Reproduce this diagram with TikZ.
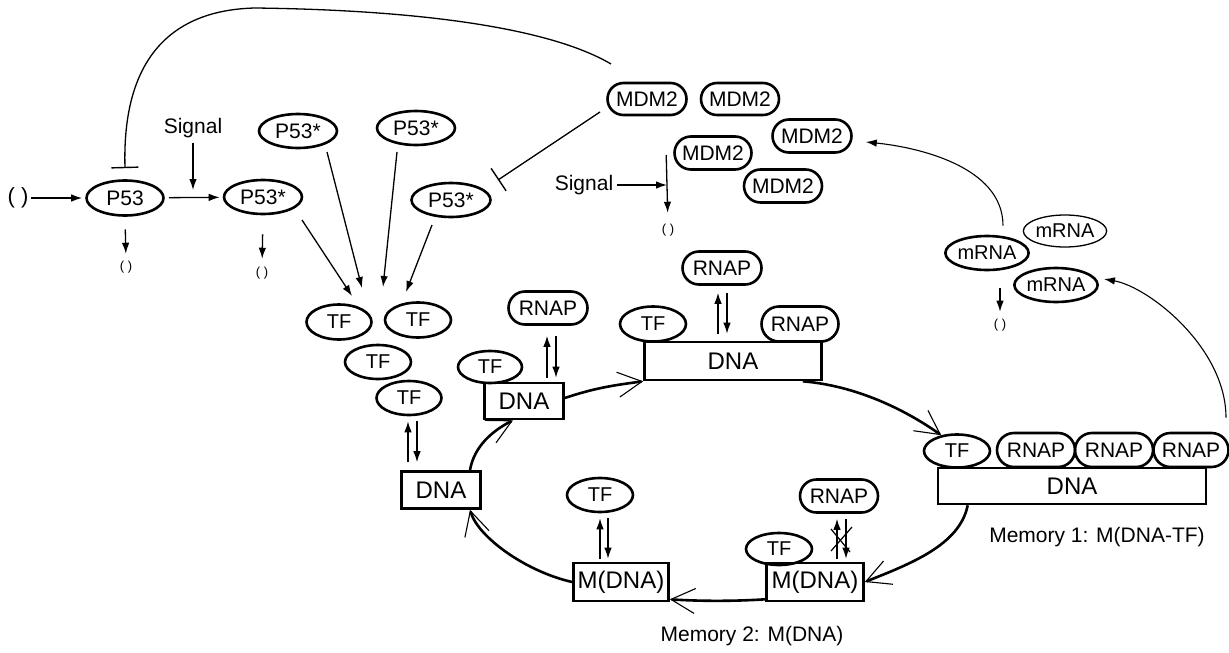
\documentclass[tikz,border=0pt]{standalone}
\usepackage{fontspec}
\setmainfont{Liberation Sans}
\usetikzlibrary{arrows.meta,shapes.geometric,shapes.misc,calc}
\begin{document}
\begin{tikzpicture}[x=1pt,y=-1pt,
  every node/.style={inner sep=0pt},
  lbl/.style={font=\fontsize{21}{25}\selectfont},
  ell/.style={ellipse,draw,line width=2.6pt,minimum width=78pt,minimum height=34pt,font=\fontsize{21}{25}\selectfont},
  tfe/.style={ellipse,draw,line width=2.6pt,minimum width=66pt,minimum height=34pt,font=\fontsize{20}{24}\selectfont},
  pill/.style={rounded rectangle,draw,line width=2.6pt,minimum width=78pt,minimum height=33pt,font=\fontsize{21}{25}\selectfont},
  dbox/.style={rectangle,draw,line width=2.6pt,minimum height=37pt,font=\fontsize{24}{28}\selectfont},
  small/.style={font=\fontsize{13}{15}\selectfont},
  arr/.style={line width=1.3pt,-{Latex[length=11pt,width=7.5pt]}},
  inh/.style={line width=1.3pt,-{Bar[width=27pt,line width'=1.4pt]}},
  cyc/.style={line width=2.6pt,-{Straight Barb[length=24pt,width=25pt,line width'=1.1pt]}},
]
\useasboundingbox (0,0) rectangle (1229,653);

% ---- P53 row
\node[font=\fontsize{22}{26}\selectfont] (lp) at (18,198) {( )};
\node[ell,minimum width=77pt,minimum height=35pt] (p53) at (125,198) {P53};
\node[ell] (p53s) at (263,197) {P53*};
\node[lbl] (sig1) at (193,128) {Signal};
\node[small] (deg1) at (126,267) {( )};
\node[small] (deg2) at (262,273) {( )};
\coordinate (j1) at (193,190);

\draw[arr,shorten >=3pt,shorten <=2pt] (lp) -- (p53);
\draw[arr,shorten >=3pt,shorten <=4pt] (p53) -- (p53s);
\draw[arr,shorten <=5pt] (sig1.south) -- (j1);
\draw[arr,shorten <=12.5pt,shorten >=7pt] (p53.south) -- (deg1.north);
\draw[arr,shorten <=19pt,shorten >=8pt] (p53s.south) -- (deg2.north);

% ---- other P53*
\node[ell] (p53a) at (298,131) {P53*};
\node[ell] (p53b) at (416,128) {P53*};
\node[ell,minimum width=79pt] (p53c) at (451,200) {P53*};

% ---- TF pool
\node[tfe,minimum width=65pt,minimum height=35pt] (tf1) at (339,322) {TF};
\node[tfe,minimum height=35pt] (tf2) at (418,320) {TF};
\node[tfe] (tf3) at (378,362) {TF};
\node[tfe,minimum width=65pt] (tf4) at (409,398) {TF};

\coordinate (t1) at (352,296);
\coordinate (t2) at (362,288);
\coordinate (t3) at (383,287);
\coordinate (t4) at (406,292);
\draw[arr] ($(p53s)+(39,23)$) -- (t1);
\draw[arr] ($(p53a)+(29,21)$) -- (t2);
\draw[arr] ($(p53b)+(-19,24)$) -- (t3);
\draw[arr] ($(p53c)+(-19,25)$) -- (t4);

% ---- MDM2
\node[pill,minimum width=79pt,minimum height=32pt] (mdm1) at (647,99) {MDM2};
\node[pill,minimum height=32pt] (mdm2) at (740,99) {MDM2};
\node[pill,minimum width=79pt] (mdm3) at (812,136) {MDM2};
\node[pill,minimum width=77pt] (mdm4) at (713,153) {MDM2};
\node[pill] (mdm5) at (783,186) {MDM2};
\node[lbl] (sig2) at (584,185) {Signal};
\node[small] (deg3) at (668,230) {( )};
\coordinate (j2) at (667,185);

\draw[arr,shorten >=11pt] ($(mdm4.west)+(-7,2)$) -- (deg3.north);
\draw[arr,shorten <=4pt] (sig2.east) -- (j2);

% inhibitions
\draw[inh] ($(mdm1)+(-47,13)$) -- ($(p53c)+(47,-20)$);
\draw[inh] ($(mdm1)+(-36,-35)$) .. controls (550,28) and (420,10) .. (255,8)
  .. controls (170,10) and (122,60) .. ([yshift=11pt]p53.north);

% ---- mRNA
\node[ell] (mrna1) at (987,253) {\fontsize{20}{24}\selectfont mRNA};
\node[ell,line width=1.3pt,minimum width=76pt,minimum height=32pt] (mrna2) at (1065,231) {\fontsize{20}{24}\selectfont mRNA};
\node[ell] (mrna3) at (1056,285) {\fontsize{20}{24}\selectfont mRNA};
\node[small] (deg4) at (1000,325) {( )};
\draw[arr,shorten <=17pt,shorten >=7pt] (deg4.north |- mrna1.south) -- (deg4.north);

% ---- cycle: DNA states
\node[dbox,minimum width=79pt] (dnaL) at (441,490) {DNA};
\node[dbox,minimum width=79pt,minimum height=36pt] (dnaS) at (524,401) {DNA};
\node[tfe,minimum width=64pt,minimum height=32pt] (tfS) at (490,367) {TF};
\node[pill,minimum width=79pt] (rnapS) at (548,308) {RNAP};

\node[dbox,minimum width=177pt,minimum height=38pt] (dnaB) at (733,361) {DNA};
\node[tfe,minimum height=35pt] (tfB) at (653,324) {TF};
\node[pill,minimum width=77pt,minimum height=35pt] (rnapB) at (800,324) {RNAP};
\node[pill,minimum width=79pt] (rnapT) at (722,268) {RNAP};

\node[dbox,minimum width=268pt,minimum height=36pt] (dnaA) at (1072,486) {DNA};
\node[tfe,minimum height=33pt] (tfA) at (957,451) {TF};
\node[pill,minimum height=34pt] (r1) at (1036,450) {RNAP};
\node[pill,minimum height=34pt] (r2) at (1114,450) {RNAP};
\node[pill,minimum width=75pt,minimum height=34pt] (r3) at (1191,450) {RNAP};
\node[lbl] (mem1) at (1097,537) {Memory 1: M(DNA-TF)};

\node[dbox,minimum width=95pt,minimum height=38pt] (mdnaL) at (621,582) {M(DNA)};
\node[tfe] (tfM) at (600,495) {TF};
\node[dbox,minimum width=97pt,minimum height=38pt] (mdnaR) at (815,582) {M(DNA)};
\node[tfe,minimum height=32pt] (tfR) at (779,549) {TF};
\node[pill] (rnapR) at (839,496) {RNAP};
\node[lbl] (mem2) at (752,636) {Memory 2: M(DNA)};

% binding/unbinding double arrows
\draw[arr,shorten <=8pt,shorten >=5pt] (408,0 |- dnaL.north) -- (408,0 |- tf4.south);
\draw[arr,shorten <=5pt,shorten >=8pt] (417,0 |- tf4.south) -- (417,0 |- dnaL.north);
\draw[arr,shorten <=4pt,shorten >=10pt] (547,0 |- dnaS.north) -- (547,0 |- rnapS.south);
\draw[arr,shorten <=10pt,shorten >=4pt] (556,0 |- rnapS.south) -- (556,0 |- dnaS.north);
\draw[arr,shorten <=7pt,shorten >=7pt] (718,0 |- dnaB.north) -- (718,0 |- rnapT.south);
\draw[arr,shorten <=7pt,shorten >=7pt] (727,0 |- rnapT.south) -- (727,0 |- dnaB.north);
\draw[arr,shorten <=3pt,shorten >=5pt] (600,0 |- mdnaL.north) -- (600,0 |- tfM.south);
\draw[arr,shorten <=5pt,shorten >=3pt] (608,0 |- tfM.south) -- (608,0 |- mdnaL.north);
\draw[arr,shorten <=3pt,shorten >=5pt] (837,0 |- mdnaR.north) -- (837,0 |- rnapR.south);
\draw[arr,shorten <=5pt,shorten >=3pt] (846,0 |- rnapR.south) -- (846,0 |- mdnaR.north);
\draw[line width=1.2pt] (831,551) -- (852,527);
\draw[line width=1.2pt] (831,529) -- (850,552);

% cycle transitions
\draw[cyc] ([xshift=29pt]dnaL.north) .. controls +(4,-24) and +(-20,10) .. ([xshift=-11pt]dnaS.south);
\draw[cyc] ([yshift=3pt]dnaS.east) .. controls +(30,-10) and +(-30,4) .. (dnaB.south west);
\draw[cyc] ([xshift=-20pt]dnaB.south east) .. controls +(60,5) and +(-28,-20) .. (tfA.135);
\draw[cyc] ([xshift=31pt]dnaA.south west) .. controls +(-8,40) and +(45,-18) .. (mdnaR.east);
\draw[cyc] ([yshift=3pt]mdnaR.south west) .. controls +(-30,2) and +(30,2) .. ([yshift=3pt]mdnaL.south east);
\draw[cyc] (mdnaL.west) .. controls +(-45,-10) and +(8,28) .. ([xshift=29pt]dnaL.south);

% transcription / translation
\draw[arr,line width=1.1pt] ([xshift=35pt,yshift=14pt]r3.north) .. controls +(0,-70) and +(45,8) .. ([xshift=5pt,yshift=6pt]mrna3.east);
\draw[arr,line width=1.1pt] ([xshift=16pt,yshift=9pt]mrna1.north) .. controls +(0,-60) and +(50,5) .. ([xshift=13pt,yshift=-6pt]mdm3.east);
\end{tikzpicture}
\end{document}
